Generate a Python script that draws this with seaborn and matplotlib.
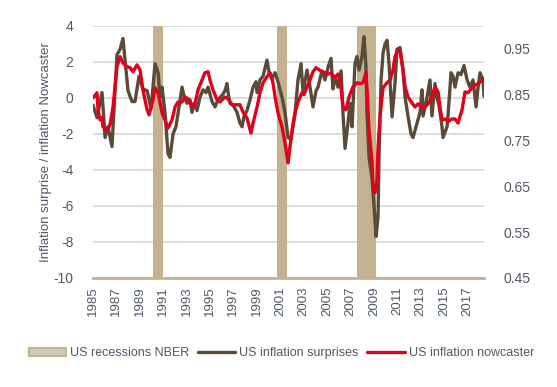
import pandas as pd
import seaborn as sns
import matplotlib.pyplot as plt
from matplotlib.patches import Patch
from matplotlib.lines import Line2D
from matplotlib import font_manager

# ========================== DATA ==========================
surprise_years = [
    1985.00, 1985.34, 1985.77, 1986.03, 1986.28, 1986.62, 1987.05, 1987.31, 1987.56, 1987.99,
    1988.33, 1988.59, 1988.93, 1989.27, 1989.62, 1989.96, 1990.30, 1990.56, 1990.73, 1990.90,
    1991.15, 1991.41, 1991.58, 1991.84, 1992.09, 1992.35, 1992.61, 1992.78, 1993.03, 1993.29,
    1993.46, 1993.63, 1993.89, 1994.15, 1994.40, 1994.66, 1994.83, 1995.17, 1995.43, 1995.68,
    1996.03, 1996.28, 1996.45, 1996.54, 1996.71, 1996.97, 1997.31, 1997.56, 1997.74, 1997.91,
    1998.16, 1998.42, 1998.68, 1998.93, 1999.02, 1999.27, 1999.53, 1999.87, 2000.04, 2000.30,
    2000.56, 2000.81, 2001.15, 2001.41, 2001.67, 2001.92, 2002.09, 2002.26, 2002.52, 2002.78,
    2002.95, 2003.29, 2003.55, 2003.80, 2004.06, 2004.23, 2004.57, 2004.83, 2005.09, 2005.34,
    2005.51, 2005.68, 2005.94, 2006.20, 2006.37, 2006.54, 2006.79, 2006.97, 2007.14, 2007.39,
    2007.56, 2007.74, 2007.99, 2008.16, 2008.33, 2008.42, 2008.59, 2008.85, 2009.02, 2009.19,
    2009.36, 2009.44, 2009.62, 2009.79, 2009.96, 2010.13, 2010.30, 2010.56, 2010.81, 2010.98,
    2011.24, 2011.50, 2011.67, 2011.92, 2012.18, 2012.35, 2012.69, 2012.95, 2013.12, 2013.21,
    2013.55, 2013.80, 2013.97, 2014.23, 2014.40, 2014.57, 2014.83, 2014.91, 2015.26, 2015.34,
    2015.60, 2015.77, 2015.94, 2016.20, 2016.45, 2016.71, 2016.97, 2017.22, 2017.48, 2017.74,
    2017.91, 2018.08, 2018.33, 2018.42]
surprise_vals = [
    -0.4, -1.1, 0.3, -2.2, -1.6, -2.7, 2.4, 2.7, 3.3, 0.4,
    -0.2, -0.2, 1.2, 0.5, 0.4, -0.6, 1.9, 1.4, 0.05, 0.6,
    -0.8, -3.1, -3.3, -2.0, -1.6, -0.5, 0.6, 0.1, -0.3, -0.1,
    -0.8, -0.3, -0.7, 0.05, 0.45, 0.3, 0.6, -0.2, -0.5, -0.1,
    0.15, 0.4, 0.8, 0.3, -0.3, -0.4, -0.8, -1.4, -1.6, -1.0,
    -0.7, -0.1, 0.6, 0.9, 0.3, 1.0, 1.2, 2.1, 1.45, 1.1,
    1.4, 0.9, 0.05, -0.8, -2.2, -2.3, -1.6, -0.9, 1.0, 1.9,
    0.3, 1.55, 0.6, -0.5, 0.4, 0.6, 1.5, 1.0, 1.7, 2.2,
    0.5, 1.2, 0.6, 1.5, -0.9, -2.8, -1.4, -0.3, -1.6, 1.9,
    2.3, 1.55, 2.3, 3.4, 1.7, -0.85, -3.3, -4.5, -6.0, -7.7,
    -6.6, -3.3, 1.0, 2.5, 3.0, 3.2, 1.9, -1.05, 0.8, 2.7,
    2.8, 1.5, 0.05, -1.0, -2.0, -2.2, -1.4, -0.8, 0.45, -1.0,
    0.05, 1.0, -1.0, 0.8, 0.0, -0.4, -1.6, -2.2, -1.6, -1.0,
    1.4, 1.2, 0.6, 1.4, 1.3, 1.8, 1.0, 0.6, 1.0, -0.5,
    0.6, 1.4, 1.0, 0.1]

nowcast_years = [
    1985.00, 1985.34, 1985.43, 1985.60, 1985.77, 1985.85, 1986.20, 1986.45, 1986.71, 1987.05,
    1987.31, 1987.56, 1987.91, 1988.16, 1988.42, 1988.76, 1989.02, 1989.27, 1989.62, 1989.79,
    1990.13, 1990.30, 1990.56, 1990.90, 1991.15, 1991.41, 1991.75, 1992.01, 1992.26, 1992.61,
    1992.86, 1993.12, 1993.46, 1993.72, 1993.97, 1994.32, 1994.57, 1994.83, 1995.00, 1995.26,
    1995.60, 1995.85, 1996.28, 1996.54, 1996.88, 1997.31, 1997.56, 1997.82, 1998.16, 1998.50,
    1998.68, 1999.02, 1999.27, 1999.53, 1999.87, 2000.13, 2000.38, 2000.56, 2000.81, 2001.15,
    2001.41, 2001.67, 2002.01, 2002.26, 2002.52, 2002.86, 2003.03, 2003.29, 2003.55, 2003.80,
    2004.06, 2004.23, 2004.57, 2004.83, 2005.09, 2005.34, 2005.68, 2005.94, 2006.11, 2006.37,
    2006.62, 2006.88, 2007.22, 2007.56, 2007.82, 2008.08, 2008.33, 2008.42, 2008.59, 2008.85,
    2008.93, 2009.10, 2009.27, 2009.36, 2009.53, 2009.70, 2009.79, 2010.13, 2010.38, 2010.64,
    2010.81, 2011.07, 2011.24, 2011.50, 2011.67, 2011.92, 2012.26, 2012.52, 2012.78, 2013.12,
    2013.38, 2013.63, 2013.97, 2014.23, 2014.49, 2014.66, 2014.83, 2015.09, 2015.34, 2015.68,
    2015.94, 2016.20, 2016.54, 2016.79, 2017.05, 2017.39, 2017.65, 2017.91, 2018.25, 2018.42]
nowcast_vals = [
    0.843, 0.854, 0.817, 0.795, 0.800, 0.780, 0.773, 0.784, 0.823, 0.911,
    0.933, 0.919, 0.911, 0.909, 0.900, 0.915, 0.904, 0.860, 0.817, 0.806,
    0.839, 0.865, 0.854, 0.810, 0.795, 0.777, 0.795, 0.823, 0.834, 0.834,
    0.845, 0.841, 0.823, 0.830, 0.860, 0.882, 0.898, 0.900, 0.882, 0.860,
    0.839, 0.834, 0.845, 0.841, 0.828, 0.828, 0.828, 0.812, 0.799, 0.766,
    0.788, 0.823, 0.854, 0.876, 0.889, 0.898, 0.876, 0.845, 0.810, 0.780,
    0.745, 0.701, 0.773, 0.810, 0.834, 0.854, 0.850, 0.867, 0.882, 0.900,
    0.909, 0.906, 0.900, 0.898, 0.895, 0.897, 0.887, 0.895, 0.885, 0.823,
    0.817, 0.845, 0.867, 0.876, 0.874, 0.876, 0.898, 0.860, 0.773, 0.701,
    0.649, 0.636, 0.664, 0.736, 0.802, 0.845, 0.865, 0.876, 0.882, 0.904,
    0.933, 0.948, 0.945, 0.904, 0.867, 0.845, 0.832, 0.823, 0.830, 0.821,
    0.823, 0.830, 0.845, 0.867, 0.856, 0.823, 0.795, 0.797, 0.791, 0.797,
    0.797, 0.788, 0.817, 0.856, 0.854, 0.865, 0.871, 0.874, 0.882, 0.885]

recession_start = [1990.13, 2000.73, 2007.56]
recession_end = [1990.98, 2001.58, 2009.19]

year_ticks = list(range(1985, 2018, 2))
left_ticks = [-10, -8, -6, -4, -2, 0, 2, 4]
right_ticks = [0.45, 0.55, 0.65, 0.75, 0.85, 0.95]

surprise_df = pd.DataFrame({'year': surprise_years, 'value': surprise_vals})
nowcast_df = pd.DataFrame({'year': nowcast_years, 'value': nowcast_vals})

# ========================== STYLE ==========================
sns.set_style("white")
names = {f.name for f in font_manager.fontManager.ttflist}
base_font = 'Liberation Sans Narrow' if 'Liberation Sans Narrow' in names else 'Liberation Sans'
plt.rcParams['font.family'] = [base_font, 'DejaVu Sans']
plt.rcParams['axes.unicode_minus'] = False

text_col = '#4f5966'
brown = '#5a4a39'
red = '#e2001a'
tan = '#c4b18e'

fig = plt.figure(figsize=(5.57, 3.87), dpi=100)
ax = fig.add_axes([0.167, 0.2817, 0.702, 0.6513])

# recession bars
for s, e in zip(recession_start, recession_end):
    ax.axvspan(s, e, color=tan, lw=0, zorder=1)

sns.lineplot(data=surprise_df, x='year', y='value', ax=ax, color=brown, lw=2.4, zorder=3)
ax.set_xlim(1985, 2018.42)
ax.set_ylim(-10, 4)
ax.set_yticks(left_ticks)
ax.set_xticks(year_ticks)
ax.set_xticklabels([str(y) for y in year_ticks], rotation=90)
ax.grid(axis='y', color='#d9d9d9', lw=1.3, zorder=0)
ax.set_axisbelow(True)
ax.set_xlabel('')
ax.set_ylabel('Inflation surprise / inflation Nowcaster', fontsize=9.5, color=text_col, labelpad=1)
ax.tick_params(axis='both', length=0, labelsize=10, labelcolor=text_col)
ax.tick_params(axis='y', pad=14)
ax.tick_params(axis='x', pad=6, labelsize=9.5)
for side in ['top', 'left', 'right']:
    ax.spines[side].set_visible(False)
ax.spines['bottom'].set_color(tan)
ax.spines['bottom'].set_linewidth(2)

# nowcaster on the right axis
ax2 = ax.twinx()
sns.lineplot(data=nowcast_df, x='year', y='value', ax=ax2, color=red, lw=2.4, zorder=4)
ax2.set_ylim(0.45, 1.0)
ax2.set_yticks(right_ticks)
ax2.set_yticklabels([f'{t:.2f}' for t in right_ticks])
ax2.set_ylabel('')
ax2.tick_params(axis='y', length=0, labelsize=10, labelcolor=text_col, pad=14)
for side in ['top', 'left', 'right', 'bottom']:
    ax2.spines[side].set_visible(False)

# legend
handles = [
    Patch(facecolor='#d3c9b9', edgecolor=tan, lw=1.5),
    Line2D([0], [0], color=brown, lw=2.4),
    Line2D([0], [0], color=red, lw=2.4),
]
labels = ['US recessions NBER', 'US inflation surprises', 'US inflation nowcaster']
fig.legend(handles, labels, loc='center', bbox_to_anchor=(0.505, 0.088), ncol=3,
           frameon=False, fontsize=9, handlelength=3.0, handleheight=0.6,
           handletextpad=0.3, columnspacing=0.7, labelcolor=text_col)

plt.savefig('out.png', dpi=100)
